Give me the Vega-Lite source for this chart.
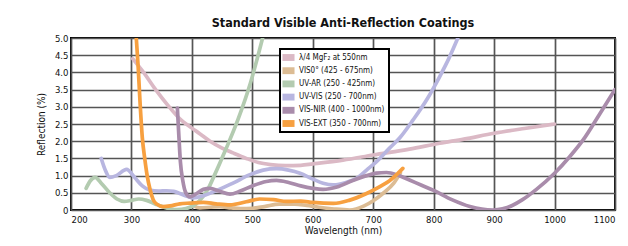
{
  "$schema": "https://vega.github.io/schema/vega-lite/v6.json",
  "width": 544,
  "height": 172,
  "autosize": {"type": "none"},
  "padding": {"left": 71, "top": 38, "right": 13, "bottom": 36},
  "background": "white",
  "title": {"text": "Standard Visible Anti-Reflection Coatings", "font": "DejaVu Sans Condensed", "fontWeight": "bold", "fontSize": 12.5, "color": "#111", "anchor": "middle", "offset": 4},
  "config": {
    "view": {"stroke": "black", "strokeWidth": 2},
    "font": "DejaVu Sans Condensed"
  },
  "datasets": {
    "curves": [
      {"s": "λ/4 MgF₂ at 550nm", "x": 302, "y": 4.4}, {"s": "λ/4 MgF₂ at 550nm", "x": 320, "y": 4.0}, {"s": "λ/4 MgF₂ at 550nm", "x": 340, "y": 3.5}, {"s": "λ/4 MgF₂ at 550nm", "x": 360, "y": 3.05}, {"s": "λ/4 MgF₂ at 550nm", "x": 380, "y": 2.65}, {"s": "λ/4 MgF₂ at 550nm", "x": 400, "y": 2.38}, {"s": "λ/4 MgF₂ at 550nm", "x": 413, "y": 2.22}, {"s": "λ/4 MgF₂ at 550nm", "x": 430, "y": 2.0}, {"s": "λ/4 MgF₂ at 550nm", "x": 450, "y": 1.8}, {"s": "λ/4 MgF₂ at 550nm", "x": 468, "y": 1.66}, {"s": "λ/4 MgF₂ at 550nm", "x": 490, "y": 1.5}, {"s": "λ/4 MgF₂ at 550nm", "x": 510, "y": 1.38}, {"s": "λ/4 MgF₂ at 550nm", "x": 530, "y": 1.32}, {"s": "λ/4 MgF₂ at 550nm", "x": 555, "y": 1.29}, {"s": "λ/4 MgF₂ at 550nm", "x": 580, "y": 1.3}, {"s": "λ/4 MgF₂ at 550nm", "x": 600, "y": 1.34}, {"s": "λ/4 MgF₂ at 550nm", "x": 650, "y": 1.45}, {"s": "λ/4 MgF₂ at 550nm", "x": 700, "y": 1.6}, {"s": "λ/4 MgF₂ at 550nm", "x": 760, "y": 1.77}, {"s": "λ/4 MgF₂ at 550nm", "x": 810, "y": 1.94}, {"s": "λ/4 MgF₂ at 550nm", "x": 850, "y": 2.06}, {"s": "λ/4 MgF₂ at 550nm", "x": 900, "y": 2.23}, {"s": "λ/4 MgF₂ at 550nm", "x": 950, "y": 2.37}, {"s": "λ/4 MgF₂ at 550nm", "x": 1000, "y": 2.5},

      {"s": "VIS0° (425 - 675nm)", "x": 403, "y": 0.12}, {"s": "VIS0° (425 - 675nm)", "x": 413, "y": 0.06}, {"s": "VIS0° (425 - 675nm)", "x": 430, "y": 0.08}, {"s": "VIS0° (425 - 675nm)", "x": 446, "y": 0.1}, {"s": "VIS0° (425 - 675nm)", "x": 465, "y": 0.06}, {"s": "VIS0° (425 - 675nm)", "x": 480, "y": 0.04}, {"s": "VIS0° (425 - 675nm)", "x": 500, "y": 0.05}, {"s": "VIS0° (425 - 675nm)", "x": 520, "y": 0.1}, {"s": "VIS0° (425 - 675nm)", "x": 545, "y": 0.17}, {"s": "VIS0° (425 - 675nm)", "x": 570, "y": 0.17}, {"s": "VIS0° (425 - 675nm)", "x": 590, "y": 0.13}, {"s": "VIS0° (425 - 675nm)", "x": 610, "y": 0.08}, {"s": "VIS0° (425 - 675nm)", "x": 635, "y": 0.03}, {"s": "VIS0° (425 - 675nm)", "x": 661, "y": 0.0}, {"s": "VIS0° (425 - 675nm)", "x": 685, "y": 0.12}, {"s": "VIS0° (425 - 675nm)", "x": 700, "y": 0.27}, {"s": "VIS0° (425 - 675nm)", "x": 716, "y": 0.48}, {"s": "VIS0° (425 - 675nm)", "x": 734, "y": 0.78}, {"s": "VIS0° (425 - 675nm)", "x": 745, "y": 1.08},

      {"s": "UV-AR (250 - 425nm)", "x": 225, "y": 0.63}, {"s": "UV-AR (250 - 425nm)", "x": 232, "y": 0.85}, {"s": "UV-AR (250 - 425nm)", "x": 240, "y": 0.95}, {"s": "UV-AR (250 - 425nm)", "x": 250, "y": 0.78}, {"s": "UV-AR (250 - 425nm)", "x": 264, "y": 0.5}, {"s": "UV-AR (250 - 425nm)", "x": 276, "y": 0.32}, {"s": "UV-AR (250 - 425nm)", "x": 288, "y": 0.25}, {"s": "UV-AR (250 - 425nm)", "x": 300, "y": 0.28}, {"s": "UV-AR (250 - 425nm)", "x": 312, "y": 0.32}, {"s": "UV-AR (250 - 425nm)", "x": 325, "y": 0.28}, {"s": "UV-AR (250 - 425nm)", "x": 340, "y": 0.17}, {"s": "UV-AR (250 - 425nm)", "x": 358, "y": 0.06}, {"s": "UV-AR (250 - 425nm)", "x": 375, "y": 0.01}, {"s": "UV-AR (250 - 425nm)", "x": 390, "y": 0.04}, {"s": "UV-AR (250 - 425nm)", "x": 405, "y": 0.15}, {"s": "UV-AR (250 - 425nm)", "x": 418, "y": 0.38}, {"s": "UV-AR (250 - 425nm)", "x": 427, "y": 0.62}, {"s": "UV-AR (250 - 425nm)", "x": 435, "y": 0.92}, {"s": "UV-AR (250 - 425nm)", "x": 457, "y": 1.8}, {"s": "UV-AR (250 - 425nm)", "x": 476, "y": 2.62}, {"s": "UV-AR (250 - 425nm)", "x": 497, "y": 3.7}, {"s": "UV-AR (250 - 425nm)", "x": 517, "y": 5.0},

      {"s": "UV-VIS (250 - 700nm)", "x": 250, "y": 1.5}, {"s": "UV-VIS (250 - 700nm)", "x": 257, "y": 1.15}, {"s": "UV-VIS (250 - 700nm)", "x": 264, "y": 0.95}, {"s": "UV-VIS (250 - 700nm)", "x": 275, "y": 1.0}, {"s": "UV-VIS (250 - 700nm)", "x": 292, "y": 1.18}, {"s": "UV-VIS (250 - 700nm)", "x": 305, "y": 0.95}, {"s": "UV-VIS (250 - 700nm)", "x": 318, "y": 0.7}, {"s": "UV-VIS (250 - 700nm)", "x": 330, "y": 0.58}, {"s": "UV-VIS (250 - 700nm)", "x": 345, "y": 0.55}, {"s": "UV-VIS (250 - 700nm)", "x": 358, "y": 0.56}, {"s": "UV-VIS (250 - 700nm)", "x": 370, "y": 0.54}, {"s": "UV-VIS (250 - 700nm)", "x": 380, "y": 0.48}, {"s": "UV-VIS (250 - 700nm)", "x": 392, "y": 0.4}, {"s": "UV-VIS (250 - 700nm)", "x": 402, "y": 0.35}, {"s": "UV-VIS (250 - 700nm)", "x": 420, "y": 0.42}, {"s": "UV-VIS (250 - 700nm)", "x": 445, "y": 0.6}, {"s": "UV-VIS (250 - 700nm)", "x": 468, "y": 0.78}, {"s": "UV-VIS (250 - 700nm)", "x": 495, "y": 1.02}, {"s": "UV-VIS (250 - 700nm)", "x": 518, "y": 1.16}, {"s": "UV-VIS (250 - 700nm)", "x": 540, "y": 1.2}, {"s": "UV-VIS (250 - 700nm)", "x": 560, "y": 1.16}, {"s": "UV-VIS (250 - 700nm)", "x": 579, "y": 1.07}, {"s": "UV-VIS (250 - 700nm)", "x": 600, "y": 0.9}, {"s": "UV-VIS (250 - 700nm)", "x": 617, "y": 0.78}, {"s": "UV-VIS (250 - 700nm)", "x": 634, "y": 0.73}, {"s": "UV-VIS (250 - 700nm)", "x": 655, "y": 0.8}, {"s": "UV-VIS (250 - 700nm)", "x": 675, "y": 0.95}, {"s": "UV-VIS (250 - 700nm)", "x": 689, "y": 1.16}, {"s": "UV-VIS (250 - 700nm)", "x": 705, "y": 1.4}, {"s": "UV-VIS (250 - 700nm)", "x": 727, "y": 1.8}, {"s": "UV-VIS (250 - 700nm)", "x": 744, "y": 2.1}, {"s": "UV-VIS (250 - 700nm)", "x": 766, "y": 2.62}, {"s": "UV-VIS (250 - 700nm)", "x": 790, "y": 3.25}, {"s": "UV-VIS (250 - 700nm)", "x": 810, "y": 3.88}, {"s": "UV-VIS (250 - 700nm)", "x": 825, "y": 4.4}, {"s": "UV-VIS (250 - 700nm)", "x": 840, "y": 5.0},

      {"s": "VIS-NIR (400 - 1000nm)", "x": 376, "y": 2.96}, {"s": "VIS-NIR (400 - 1000nm)", "x": 378, "y": 2.3}, {"s": "VIS-NIR (400 - 1000nm)", "x": 381, "y": 1.4}, {"s": "VIS-NIR (400 - 1000nm)", "x": 385, "y": 0.85}, {"s": "VIS-NIR (400 - 1000nm)", "x": 390, "y": 0.5}, {"s": "VIS-NIR (400 - 1000nm)", "x": 397, "y": 0.38}, {"s": "VIS-NIR (400 - 1000nm)", "x": 408, "y": 0.48}, {"s": "VIS-NIR (400 - 1000nm)", "x": 419, "y": 0.6}, {"s": "VIS-NIR (400 - 1000nm)", "x": 430, "y": 0.63}, {"s": "VIS-NIR (400 - 1000nm)", "x": 445, "y": 0.55}, {"s": "VIS-NIR (400 - 1000nm)", "x": 463, "y": 0.46}, {"s": "VIS-NIR (400 - 1000nm)", "x": 480, "y": 0.55}, {"s": "VIS-NIR (400 - 1000nm)", "x": 500, "y": 0.7}, {"s": "VIS-NIR (400 - 1000nm)", "x": 523, "y": 0.83}, {"s": "VIS-NIR (400 - 1000nm)", "x": 540, "y": 0.86}, {"s": "VIS-NIR (400 - 1000nm)", "x": 560, "y": 0.8}, {"s": "VIS-NIR (400 - 1000nm)", "x": 580, "y": 0.7}, {"s": "VIS-NIR (400 - 1000nm)", "x": 600, "y": 0.63}, {"s": "VIS-NIR (400 - 1000nm)", "x": 617, "y": 0.6}, {"s": "VIS-NIR (400 - 1000nm)", "x": 640, "y": 0.67}, {"s": "VIS-NIR (400 - 1000nm)", "x": 665, "y": 0.85}, {"s": "VIS-NIR (400 - 1000nm)", "x": 689, "y": 1.0}, {"s": "VIS-NIR (400 - 1000nm)", "x": 705, "y": 1.07}, {"s": "VIS-NIR (400 - 1000nm)", "x": 722, "y": 1.09}, {"s": "VIS-NIR (400 - 1000nm)", "x": 740, "y": 1.02}, {"s": "VIS-NIR (400 - 1000nm)", "x": 760, "y": 0.87}, {"s": "VIS-NIR (400 - 1000nm)", "x": 780, "y": 0.72}, {"s": "VIS-NIR (400 - 1000nm)", "x": 800, "y": 0.57}, {"s": "VIS-NIR (400 - 1000nm)", "x": 830, "y": 0.3}, {"s": "VIS-NIR (400 - 1000nm)", "x": 860, "y": 0.1}, {"s": "VIS-NIR (400 - 1000nm)", "x": 898, "y": 0.0}, {"s": "VIS-NIR (400 - 1000nm)", "x": 930, "y": 0.13}, {"s": "VIS-NIR (400 - 1000nm)", "x": 947, "y": 0.3}, {"s": "VIS-NIR (400 - 1000nm)", "x": 970, "y": 0.6}, {"s": "VIS-NIR (400 - 1000nm)", "x": 1000, "y": 1.07}, {"s": "VIS-NIR (400 - 1000nm)", "x": 1025, "y": 1.55}, {"s": "VIS-NIR (400 - 1000nm)", "x": 1047, "y": 2.03}, {"s": "VIS-NIR (400 - 1000nm)", "x": 1075, "y": 2.8}, {"s": "VIS-NIR (400 - 1000nm)", "x": 1100, "y": 3.5},

      {"s": "VIS-EXT (350 - 700nm)", "x": 308, "y": 5.0}, {"s": "VIS-EXT (350 - 700nm)", "x": 311, "y": 4.2}, {"s": "VIS-EXT (350 - 700nm)", "x": 314, "y": 3.2}, {"s": "VIS-EXT (350 - 700nm)", "x": 318, "y": 2.1}, {"s": "VIS-EXT (350 - 700nm)", "x": 322, "y": 1.5}, {"s": "VIS-EXT (350 - 700nm)", "x": 326, "y": 1.0}, {"s": "VIS-EXT (350 - 700nm)", "x": 331, "y": 0.58}, {"s": "VIS-EXT (350 - 700nm)", "x": 336, "y": 0.3}, {"s": "VIS-EXT (350 - 700nm)", "x": 342, "y": 0.17}, {"s": "VIS-EXT (350 - 700nm)", "x": 352, "y": 0.1}, {"s": "VIS-EXT (350 - 700nm)", "x": 364, "y": 0.12}, {"s": "VIS-EXT (350 - 700nm)", "x": 380, "y": 0.18}, {"s": "VIS-EXT (350 - 700nm)", "x": 397, "y": 0.2}, {"s": "VIS-EXT (350 - 700nm)", "x": 419, "y": 0.22}, {"s": "VIS-EXT (350 - 700nm)", "x": 440, "y": 0.18}, {"s": "VIS-EXT (350 - 700nm)", "x": 463, "y": 0.15}, {"s": "VIS-EXT (350 - 700nm)", "x": 490, "y": 0.24}, {"s": "VIS-EXT (350 - 700nm)", "x": 512, "y": 0.32}, {"s": "VIS-EXT (350 - 700nm)", "x": 535, "y": 0.3}, {"s": "VIS-EXT (350 - 700nm)", "x": 557, "y": 0.25}, {"s": "VIS-EXT (350 - 700nm)", "x": 580, "y": 0.26}, {"s": "VIS-EXT (350 - 700nm)", "x": 600, "y": 0.22}, {"s": "VIS-EXT (350 - 700nm)", "x": 634, "y": 0.19}, {"s": "VIS-EXT (350 - 700nm)", "x": 660, "y": 0.28}, {"s": "VIS-EXT (350 - 700nm)", "x": 689, "y": 0.48}, {"s": "VIS-EXT (350 - 700nm)", "x": 711, "y": 0.68}, {"s": "VIS-EXT (350 - 700nm)", "x": 727, "y": 0.85}, {"s": "VIS-EXT (350 - 700nm)", "x": 740, "y": 1.05}, {"s": "VIS-EXT (350 - 700nm)", "x": 749, "y": 1.21}
    ]
  },
  "data": {"name": "curves"},
  "mark": {"type": "line", "interpolate": "monotone", "strokeWidth": 3.7, "strokeCap": "round", "clip": true},
  "encoding": {
    "x": {
      "field": "x", "type": "quantitative",
      "scale": {"domain": [200, 1100], "nice": false},
      "axis": {"values": [200, 300, 400, 500, 600, 700, 800, 900, 1000, 1100], "format": "d", "title": "Wavelength (nm)", "titleFontSize": 10, "titleFontWeight": "normal", "titleColor": "#111", "titlePadding": 2, "labelFontSize": 9.5, "labelFontWeight": "normal", "labelColor": "#111", "labelPadding": 4, "ticks": false, "domain": false, "gridColor": "#555", "gridWidth": 1.7, "gridOpacity": 1}
    },
    "y": {
      "field": "y", "type": "quantitative",
      "scale": {"domain": [0, 5], "nice": false},
      "axis": {"values": [0, 0.5, 1, 1.5, 2, 2.5, 3, 3.5, 4, 4.5, 5], "labelExpr": "datum.value == 0 ? '0' : format(datum.value, '.1f')", "title": "Reflection (%)", "titleFontSize": 10, "titleFontWeight": "normal", "titleColor": "#111", "titlePadding": 8, "labelFontSize": 9.5, "labelFontWeight": "normal", "labelColor": "#111", "labelPadding": 3, "ticks": false, "domain": false, "gridColor": "#555", "gridWidth": 1.7, "gridOpacity": 1}
    },
    "color": {
      "field": "s", "type": "nominal",
      "scale": {
        "domain": ["λ/4 MgF₂ at 550nm", "VIS0° (425 - 675nm)", "UV-AR (250 - 425nm)", "UV-VIS (250 - 700nm)", "VIS-NIR (400 - 1000nm)", "VIS-EXT (350 - 700nm)"],
        "range": ["#dbb9c5", "#dcbc94", "#b3cbb0", "#b8b6e0", "#a98cab", "#f7a040"]
      },
      "legend": {
        "title": null, "orient": "none", "legendX": 209, "legendY": 11,
        "fillColor": "white", "strokeColor": "black", "padding": 4,
        "symbolType": "M-1.4,-0.8H1.4V0.8H-1.4Z", "symbolSize": 74, "symbolStrokeWidth": 0, "symbolOpacity": 1,
        "labelFontSize": 8, "labelColor": "#111", "rowPadding": 4.2, "labelOffset": 6,
        "encode": {"legend": {"update": {"strokeWidth": {"value": 2}}}, "symbols": {"update": {"fill": {"scale": "color", "field": "value"}, "strokeWidth": {"value": 0}}}}
      }
    }
  }
}
